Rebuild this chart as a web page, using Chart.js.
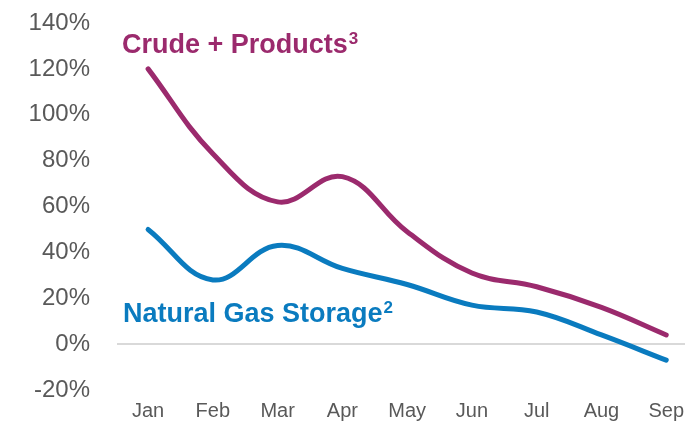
<!DOCTYPE html>
<html>
<head>
<meta charset="utf-8">
<script src="https://cdn.jsdelivr.net/npm/chart.js@4/dist/chart.umd.min.js"></script>
<style>
  html, body { margin: 0; padding: 0; background: #fff; }
  #wrap { width: 685px; height: 422px; }
</style>
</head>
<body>
<div id="wrap"><canvas id="chart" width="685" height="422"></canvas></div>
<script>
// ---- Data ----
const months = ['Jan', 'Feb', 'Mar', 'Apr', 'May', 'Jun', 'Jul', 'Aug', 'Sep'];
const crudeProducts = [120, 83, 62, 73, 49, 31, 25, 16, 4];
const gasStorage = [50, 28, 43, 33, 26, 17, 14, 4, -7];
const yTicks = [-20, 0, 20, 40, 60, 80, 100, 120, 140];

const cPurple = '#9B2A6D';
const cBlue = '#0A7BBF';
const cText = '#595959';
const clear = 'rgba(0,0,0,0)';

const toPoints = arr => arr.map((v, i) => ({ x: i, y: v }));

// series labels drawn in the plot, with superscripts
const labelPlugin = {
  id: 'seriesLabels',
  afterDatasetsDraw(chart) {
    const ctx = chart.ctx;
    const draw = (text, sup, x, y, color) => {
      ctx.save();
      ctx.fillStyle = color;
      ctx.textBaseline = 'alphabetic';
      ctx.textAlign = 'left';
      ctx.font = 'bold 27px "Liberation Sans", Arial, sans-serif';
      ctx.fillText(text, x, y);
      const w = ctx.measureText(text).width;
      ctx.font = 'bold 17px "Liberation Sans", Arial, sans-serif';
      ctx.fillText(sup, x + w + 1, y - 9);
      ctx.restore();
    };
    draw('Crude + Products', '3', 122, 53, cPurple);
    draw('Natural Gas Storage', '2', 123, 322, cBlue);
  }
};

new Chart(document.getElementById('chart'), {
  type: 'line',
  data: {
    datasets: [
      {
        label: 'Crude + Products',
        data: toPoints(crudeProducts),
        borderColor: cPurple,
        borderWidth: 5,
        borderCapStyle: 'round',
        tension: 0.4,
        pointRadius: 0,
        fill: false
      },
      {
        label: 'Natural Gas Storage',
        data: toPoints(gasStorage),
        borderColor: cBlue,
        borderWidth: 5,
        borderCapStyle: 'round',
        tension: 0.4,
        pointRadius: 0,
        fill: false
      }
    ]
  },
  options: {
    responsive: false,
    animation: false,
    layout: { padding: { top: 23, left: 0, right: 0, bottom: 0 } },
    plugins: { legend: { display: false }, tooltip: { enabled: false } },
    scales: {
      x: {
        type: 'linear',
        min: -0.48,
        max: 8.29,
        afterBuildTicks: scale => { scale.ticks = months.map((m, i) => ({ value: i })); },
        afterFit: scale => { scale.height = 32; },
        ticks: {
          autoSkip: false,
          maxRotation: 0,
          padding: 0,
          color: cText,
          font: { family: '"Liberation Sans", Arial, sans-serif', size: 20 },
          callback: v => months[v]
        },
        // tick marks kept invisible; their length spaces the labels
        grid: { color: clear, drawTicks: true, tickLength: 9, tickColor: clear },
        border: { display: false }
      },
      y: {
        min: -20,
        max: 140,
        afterBuildTicks: scale => { scale.ticks = yTicks.map(v => ({ value: v })); },
        afterFit: scale => { scale.width = 117; },
        ticks: {
          padding: 0,
          color: cText,
          font: { family: '"Liberation Sans", Arial, sans-serif', size: 24 },
          callback: v => v + '%'
        },
        grid: {
          drawTicks: true,
          tickLength: 27,
          tickColor: clear,
          lineWidth: 2,
          color: c => (c.tick && c.tick.value === 0 ? '#D9D9D9' : clear)
        },
        border: { display: false }
      }
    }
  },
  plugins: [labelPlugin]
});
</script>
</body>
</html>
